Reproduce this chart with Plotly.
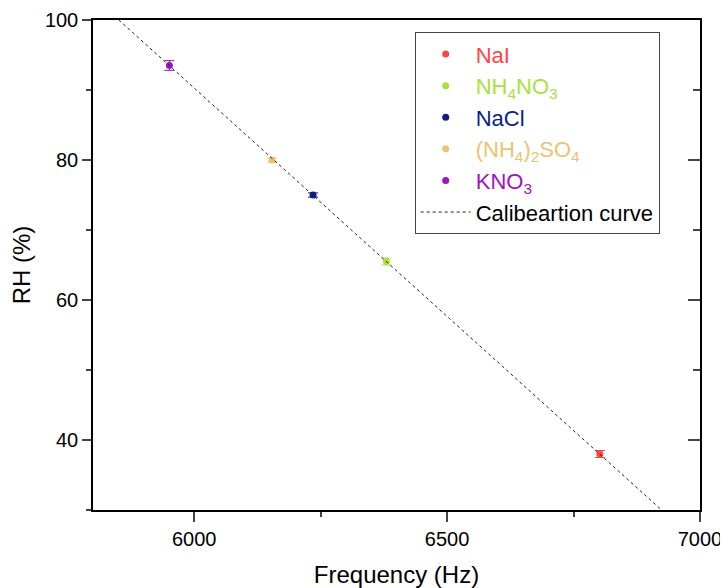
import plotly.graph_objects as go

# salt calibration points
salts = ['NaI', 'NH<sub>4</sub>NO<sub>3</sub>', 'NaCl', '(NH<sub>4</sub>)<sub>2</sub>SO<sub>4</sub>', 'KNO<sub>3</sub>']
freq = [6802, 6380, 6235, 6154, 5951]
rh = [38.0, 65.5, 75.0, 80.0, 93.5]
rh_err = [0.5, 0.5, 0.3, 0.3, 0.7]
colors = ['#FF4545', '#A8E23E', '#0C1F86', '#EEC272', '#A012C6']

# calibration line end points
calib_x = [5851, 6924]
calib_y = [100, 30]

font = 'Liberation Sans, Arial, sans-serif'

fig = go.Figure()

for name, f, r, e, c in zip(salts, freq, rh, rh_err, colors):
    fig.add_trace(go.Scatter(
        x=[f], y=[r], mode='markers',
        name='<span style="color:%s">%s</span>' % (c, name),
        marker=dict(color=c, size=7),
        error_y=dict(type='data', array=[e], color=c, thickness=1, width=5),
    ))

fig.add_trace(go.Scatter(
    x=calib_x, y=calib_y, mode='lines', name='Calibeartion curve',
    line=dict(color='#222222', width=1, dash='3px,3px'),
))

# dummy trace on the mirror axes, to get inward ticks on the right
fig.add_trace(go.Scatter(x=[None], y=[None], xaxis='x2', yaxis='y2', showlegend=False))

# page body has an 8px margin, so the figure is sized to fit inside it
fig.update_layout(
    width=720, height=580,
    margin=dict(l=85, r=28, t=12, b=78),
    plot_bgcolor='white', paper_bgcolor='white',
    font=dict(family=font, size=20, color='black'),
    showlegend=True,
    legend=dict(
        x=0.53, y=0.975, xanchor='left', yanchor='top',
        bordercolor='#444444', borderwidth=1,
        font=dict(size=22),
        itemwidth=50,
        bgcolor='white',
    ),
    xaxis=dict(
        range=[5800, 7000], tickvals=[6000, 6500, 7000],
        ticks='outside', ticklen=10, tickwidth=1.5,
        minor=dict(tickvals=[6250, 6750], ticks='outside', ticklen=5, tickwidth=1.5),
        showline=True, linecolor='black', linewidth=1.5,
        showgrid=False, zeroline=False, automargin=False,
        title=dict(text='Frequency (Hz)', font=dict(size=24), standoff=22),
    ),
    yaxis=dict(
        range=[30, 100], tickvals=[40, 60, 80, 100],
        ticks='outside', ticklen=9, tickwidth=1.5,
        minor=dict(tickvals=[30, 50, 70, 90], ticks='outside', ticklen=5, tickwidth=1.5),
        showline=True, linecolor='black', linewidth=1.5,
        showgrid=False, zeroline=False, automargin=False,
        title=dict(text='RH (%)', font=dict(size=24), standoff=12),
    ),
    xaxis2=dict(
        range=[5800, 7000], overlaying='x', side='top',
        showline=True, linecolor='black', linewidth=1.5,
        showticklabels=False, ticks='', showgrid=False, zeroline=False,
        automargin=False,
    ),
    yaxis2=dict(
        range=[30, 100], overlaying='y', side='right',
        tickvals=[40, 60, 80, 100], ticks='inside', ticklen=12, tickwidth=1.5,
        minor=dict(tickvals=[30, 50, 70, 90], ticks='inside', ticklen=7, tickwidth=1.5),
        showline=True, linecolor='black', linewidth=1.5,
        showticklabels=False, showgrid=False, zeroline=False,
        automargin=False,
    ),
)

fig.write_html('out.html')
